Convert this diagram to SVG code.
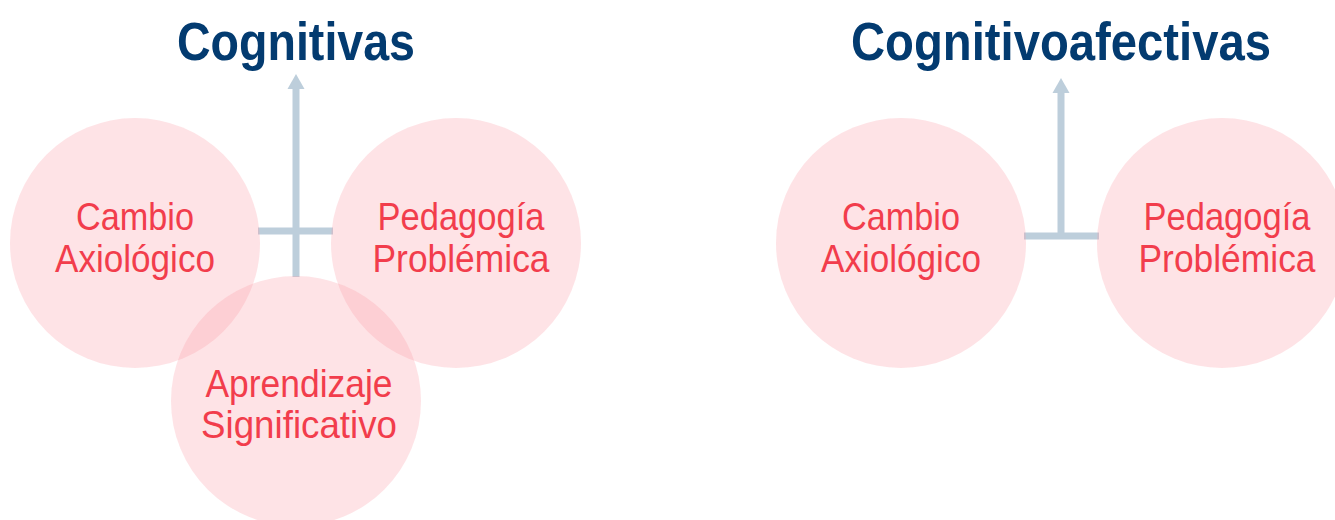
<svg xmlns="http://www.w3.org/2000/svg" width="1335" height="520" viewBox="0 0 1335 520">
<defs>
<style>
.title{font-family:"Liberation Sans Narrow","Liberation Sans",Arial,sans-serif;font-weight:bold;font-size:54px;fill:#033b70;text-anchor:middle}
.lbl{font-family:"Liberation Sans Narrow","Liberation Sans",Arial,sans-serif;font-size:39px;fill:#f23d4c;text-anchor:middle}
.node circle{fill:#fa9aa5;fill-opacity:0.28}
.conn{stroke:#bdcedb;stroke-width:7;fill:none}
.head{fill:#bdcedb}
</style>
</defs>
<rect width="1335" height="520" fill="#ffffff"/>
<g id="connectors">
<line class="conn" x1="296" y1="86" x2="296" y2="277"/>
<line class="conn" x1="258" y1="231" x2="333" y2="231"/>
<polygon class="head" points="296,74 287.5,89 304.5,89"/>
<line class="conn" x1="1061" y1="90" x2="1061" y2="236"/>
<line class="conn" x1="1024" y1="236" x2="1099" y2="236"/>
<polygon class="head" points="1061,78 1052.5,93 1069.5,93"/>
</g>
<g id="title-cognitivas"><text class="title" x="296" y="60" textLength="238" lengthAdjust="spacingAndGlyphs">Cognitivas</text></g>
<g id="title-cognitivoafectivas"><text class="title" x="1061" y="60" textLength="420" lengthAdjust="spacingAndGlyphs">Cognitivoafectivas</text></g>
<g id="l-cambio" class="node"><circle cx="135" cy="243" r="125"/>
<text class="lbl" x="135" y="230" textLength="118" lengthAdjust="spacingAndGlyphs">Cambio</text>
<text class="lbl" x="135" y="272" textLength="160" lengthAdjust="spacingAndGlyphs">Axiológico</text></g>
<g id="l-pedagogia" class="node"><circle cx="456" cy="243" r="125"/>
<text class="lbl" x="461" y="230" textLength="167" lengthAdjust="spacingAndGlyphs">Pedagogía</text>
<text class="lbl" x="461" y="272" textLength="177" lengthAdjust="spacingAndGlyphs">Problémica</text></g>
<g id="l-aprendizaje" class="node"><circle cx="296" cy="401" r="125"/>
<text class="lbl" x="299" y="397" textLength="187" lengthAdjust="spacingAndGlyphs">Aprendizaje</text>
<text class="lbl" x="299" y="438" textLength="196" lengthAdjust="spacingAndGlyphs">Significativo</text></g>
<g id="r-cambio" class="node"><circle cx="901" cy="243" r="125"/>
<text class="lbl" x="901" y="230" textLength="118" lengthAdjust="spacingAndGlyphs">Cambio</text>
<text class="lbl" x="901" y="272" textLength="160" lengthAdjust="spacingAndGlyphs">Axiológico</text></g>
<g id="r-pedagogia" class="node"><circle cx="1222" cy="243" r="125"/>
<text class="lbl" x="1227" y="230" textLength="167" lengthAdjust="spacingAndGlyphs">Pedagogía</text>
<text class="lbl" x="1227" y="272" textLength="177" lengthAdjust="spacingAndGlyphs">Problémica</text></g>
</svg>
